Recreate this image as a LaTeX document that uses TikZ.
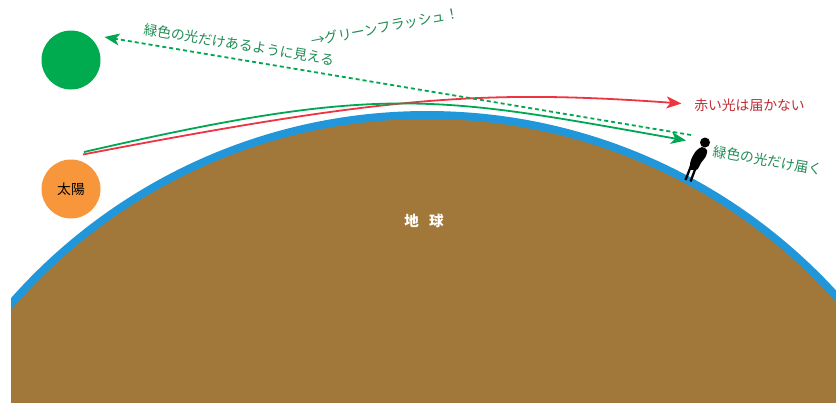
\documentclass[tikz,border=0pt]{standalone}
\usepackage{fontspec}
\newfontfamily\jp{Noto Sans CJK JP}
\usetikzlibrary{arrows.meta}

\definecolor{sunorange}{RGB}{247,150,58}
\definecolor{sungreen}{RGB}{0,171,80}
\definecolor{earthbrown}{RGB}{162,120,58}
\definecolor{airblue}{RGB}{33,150,216}
\definecolor{rayred}{RGB}{238,52,64}
\definecolor{raygreen}{RGB}{0,166,81}
\definecolor{txtgreen}{RGB}{32,140,84}
\definecolor{txtred}{RGB}{192,44,52}

\begin{document}
\begin{tikzpicture}[x=1pt,y=-1pt,
  font=\jp\fontsize{13.8pt}{16pt}\selectfont,
  disc/.style={circle,inner sep=0pt,minimum size=59pt},
  ray/.style={line width=1.8pt,-{Stealth[length=15pt,width=12pt,inset=4pt]}},
  redray/.style={ray,draw=rayred},
  greenray/.style={ray,draw=raygreen},
  seenray/.style={greenray,dash pattern=on 4pt off 3pt},
  greenlabel/.style={text=txtgreen,inner sep=0pt},
  redlabel/.style={text=txtred,inner sep=0pt}]

\useasboundingbox (0,0) rectangle (836,402);

% the Earth with its layer of air
\begin{scope}
  \clip (11,0) rectangle (836,402);
  \fill[airblue] (427,667) circle[radius=556pt];
  \fill[earthbrown] (427,667) circle[radius=548pt];
\end{scope}
\node[text=white,inner sep=0pt] (earth) at (424,221) {\bfseries\fontsize{14.5pt}{16pt}\selectfont 地\hspace{0.7em}球};

% the sun and the image seen in green
\node[disc,fill=sunorange] (sun) at (71,189) {太陽};
\node[disc,fill=sungreen] (gsun) at (71,60) {};

% ray end points
\coordinate (src) at (83,154.5);
\coordinate (srcg) at (84,152);
\coordinate (redend) at (681.5,103.5);
\coordinate (greenend) at (686,140.5);
\coordinate (seenfrom) at (691,135);
\coordinate (seenat) at (104.5,37);

% refracted rays
\draw[redray] (src) .. controls (383,97) and (481,89) .. (redend);
\draw[greenray] (srcg) .. controls (384,83) and (436,96) .. (greenend);
\draw[seenray] (seenfrom) -- (seenat);

% observer on the ground
\fill[black] (705,142.5) circle[radius=5pt];
\fill[black] plot[smooth cycle] coordinates {(702,147) (707,150) (706,156) (701,163) (697,169.5) (690,169) (691,160) (696,151)};
\draw[line width=2.3pt] (691,166) -- (685.5,180);
\draw[line width=2.3pt] (696,167) -- (690.5,181.5);

% labels
\node[greenlabel,rotate=-9.3] (seenlabel) at (239,44.5) {緑色の光だけあるように見える};
\node[greenlabel,rotate=11] (flash) at (385,27) {→グリーンフラッシュ！};
\node[redlabel] (redlabel) at (749.5,105) {赤い光は届かない};
\node[greenlabel,rotate=-10] (greenlabel) at (767.5,160.5) {緑色の光だけ届く};
\end{tikzpicture}
\end{document}
